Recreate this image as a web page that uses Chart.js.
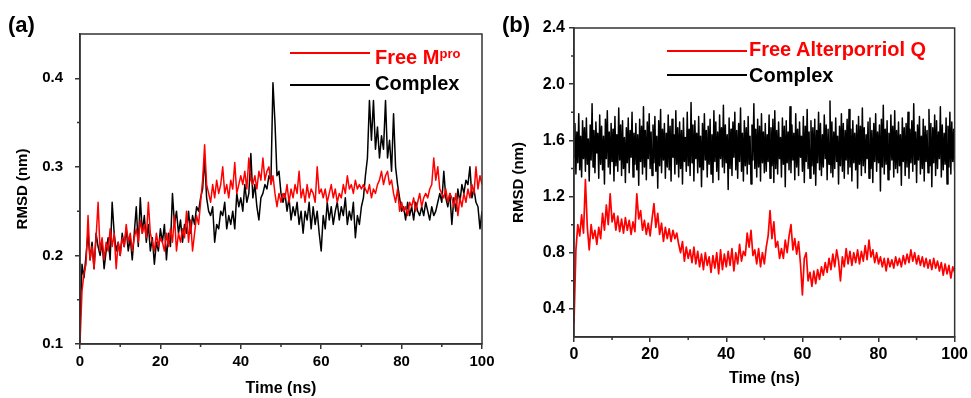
<!DOCTYPE html>
<html>
<head>
<meta charset="utf-8">
<script src="https://cdn.jsdelivr.net/npm/chart.js@4.4.0/dist/chart.umd.min.js"></script>
<style>
  body { margin: 0; background: #fff; width: 971px; height: 398px; position: relative; overflow: hidden;
         font-family: "Liberation Sans", Arial, sans-serif; font-weight: bold; }
  canvas { position: absolute; top: 0; }
  #chartA { left: 0; }
  #chartB { left: 490px; }
  .panel { position: absolute; font-size: 22px; line-height: 22px; color: #000; }
  .legline { position: absolute; width: 80px; height: 2px; }
  .legtext { position: absolute; font-size: 20px; line-height: 20px; white-space: nowrap; }
  .legtext sup { font-size: 13px; vertical-align: 6px; line-height: 0; }
</style>
</head>
<body>
<canvas id="chartA" width="500" height="398"></canvas>
<canvas id="chartB" width="481" height="398"></canvas>

<div class="panel" style="left:8px;top:14px">(a)</div>
<div class="panel" style="left:502px;top:14px">(b)</div>

<div class="legline" style="left:290px;top:52px;background:#ff0000"></div>
<div class="legtext" style="left:375px;top:47px;color:#ff0000">Free M<sup>pro</sup></div>
<div class="legline" style="left:290px;top:84px;background:#000"></div>
<div class="legtext" style="left:375px;top:73px;color:#000">Complex</div>

<div class="legline" style="left:667px;top:50px;background:#ff0000"></div>
<div class="legtext" style="left:749px;top:39px;color:#ff0000">Free Alterporriol Q</div>
<div class="legline" style="left:667px;top:74px;background:#000"></div>
<div class="legtext" style="left:749px;top:65px;color:#000">Complex</div>

<script>
// sampling grids of the trajectories (ns)
const timeNs = Array.from({ length: 201 }, (_, i) => i * 0.5);
const timeFine = Array.from({ length: 401 }, (_, i) => i * 0.25);

const xTicks = [0, 20, 40, 60, 80, 100];
const xTickLabels = ['0', '20', '40', '60', '80', '100'];
const xMinor = [10, 30, 50, 70, 90];

const yTicksA = [0.1, 0.2, 0.3, 0.4];
const yTickLabelsA = ['0.1', '0.2', '0.3', '0.4'];
const yMinorA = [0.15, 0.25, 0.35];

const yTicksB = [0.4, 0.8, 1.2, 1.6, 2.0, 2.4];
const yTickLabelsB = ['0.4', '0.8', '1.2', '1.6', '2.0', '2.4'];
const yMinorB = [0.6, 1.0, 1.4, 1.8, 2.2];

// panel (a) RMSD, nm  (every 0.5 ns)
const freeMpro = [
  0.10, 0.16, 0.18, 0.19, 0.245, 0.195, 0.21, 0.185, 0.22, 0.26, 0.205,
  0.22, 0.195, 0.215, 0.205, 0.23, 0.21, 0.225, 0.185, 0.215, 0.20,
  0.22, 0.21, 0.235, 0.215, 0.225, 0.205, 0.22, 0.23, 0.215, 0.24,
  0.225, 0.235, 0.22, 0.26, 0.225, 0.215, 0.205, 0.225, 0.21, 0.22,
  0.215, 0.205, 0.225, 0.21, 0.23, 0.215, 0.245, 0.205, 0.225, 0.215,
  0.23, 0.22, 0.25, 0.215, 0.24, 0.205, 0.225, 0.245, 0.235, 0.26,
  0.285, 0.325, 0.28, 0.27, 0.26, 0.28, 0.265, 0.285, 0.27, 0.28,
  0.30, 0.27, 0.28, 0.265, 0.285, 0.275, 0.305, 0.27, 0.28, 0.29,
  0.28, 0.295, 0.275, 0.31, 0.285, 0.28, 0.29, 0.275, 0.295, 0.285,
  0.31, 0.285, 0.295, 0.30, 0.28, 0.29, 0.27, 0.255, 0.27, 0.26,
  0.27, 0.265, 0.28, 0.26, 0.275, 0.265, 0.28, 0.27, 0.295, 0.265,
  0.275, 0.26, 0.28, 0.265, 0.275, 0.27, 0.26, 0.30, 0.27, 0.275,
  0.265, 0.275, 0.26, 0.27, 0.28, 0.265, 0.275, 0.26, 0.27, 0.265,
  0.28, 0.27, 0.29, 0.275, 0.28, 0.27, 0.285, 0.275, 0.28, 0.275,
  0.28, 0.275, 0.27, 0.28, 0.265, 0.275, 0.27, 0.28, 0.285, 0.295,
  0.28, 0.29, 0.295, 0.28, 0.285, 0.27, 0.26, 0.275, 0.25, 0.26,
  0.25, 0.255, 0.245, 0.26, 0.255, 0.265, 0.25, 0.26, 0.27, 0.255,
  0.265, 0.27, 0.265, 0.275, 0.28, 0.31, 0.285, 0.30, 0.275, 0.27,
  0.265, 0.275, 0.26, 0.27, 0.265, 0.255, 0.27, 0.245, 0.265, 0.255,
  0.27, 0.26, 0.275, 0.265, 0.28, 0.27, 0.30, 0.275, 0.29, 0.28
];
const complexA = [
  0.12, 0.19, 0.175, 0.20, 0.225, 0.195, 0.215, 0.185, 0.225, 0.21, 0.20,
  0.215, 0.185, 0.205, 0.22, 0.195, 0.26, 0.225, 0.205, 0.215, 0.20,
  0.225, 0.21, 0.23, 0.205, 0.22, 0.195, 0.225, 0.255, 0.21, 0.265,
  0.225, 0.245, 0.215, 0.235, 0.205, 0.22, 0.19, 0.215, 0.205, 0.23,
  0.215, 0.235, 0.195, 0.225, 0.21, 0.27, 0.235, 0.25, 0.225, 0.24,
  0.215, 0.235, 0.225, 0.25, 0.225, 0.245, 0.235, 0.255, 0.25, 0.265,
  0.275, 0.31, 0.265, 0.25, 0.245, 0.255, 0.215, 0.235, 0.23, 0.25,
  0.245, 0.26, 0.23, 0.245, 0.235, 0.25, 0.23, 0.27, 0.255, 0.265,
  0.25, 0.28, 0.26, 0.27, 0.315, 0.265, 0.28, 0.255, 0.24, 0.265,
  0.27, 0.28, 0.275, 0.29, 0.285, 0.395, 0.35, 0.29, 0.295, 0.27,
  0.26, 0.27, 0.25, 0.265, 0.24, 0.255, 0.245, 0.26, 0.235, 0.25,
  0.225, 0.25, 0.24, 0.26, 0.23, 0.255, 0.235, 0.25, 0.225, 0.205,
  0.245, 0.23, 0.26, 0.24, 0.255, 0.235, 0.25, 0.26, 0.24, 0.255,
  0.245, 0.265, 0.235, 0.25, 0.24, 0.26, 0.22, 0.245, 0.235, 0.255,
  0.265, 0.29, 0.31, 0.375, 0.33, 0.375, 0.32, 0.345, 0.31, 0.335,
  0.32, 0.375, 0.31, 0.33, 0.295, 0.36, 0.30, 0.28, 0.265, 0.25,
  0.255, 0.24, 0.26, 0.245, 0.255, 0.24, 0.26, 0.25, 0.245, 0.255,
  0.245, 0.26, 0.25, 0.24, 0.255, 0.245, 0.25, 0.26, 0.27, 0.26,
  0.295, 0.265, 0.255, 0.27, 0.235, 0.265, 0.25, 0.275, 0.26, 0.28,
  0.27, 0.285, 0.28, 0.30, 0.265, 0.275, 0.26, 0.255, 0.23, 0.25
];

// panel (b) RMSD, nm  (free ligand every 0.5 ns, complex every 0.25 ns)
const freeAlterQ = [
  0.30, 0.82, 1.00, 0.92, 1.07, 0.94, 1.32, 0.98, 0.82, 1.00, 0.90,
  0.96, 0.86, 0.98, 0.90, 1.08, 0.96, 1.14, 1.00, 1.22, 1.02,
  1.08, 0.96, 1.06, 0.95, 1.04, 0.94, 1.05, 0.96, 1.03, 0.93,
  1.02, 0.95, 1.22, 1.04, 1.10, 0.96, 1.03, 0.93, 1.01, 0.92,
  1.04, 1.15, 0.98, 1.08, 0.93, 1.01, 0.88, 0.98, 0.90, 0.97,
  0.88, 0.96, 0.90, 0.94, 0.86, 0.80, 0.88, 0.74, 0.84, 0.76,
  0.82, 0.73, 0.84, 0.72, 0.81, 0.70, 0.79, 0.68, 0.80, 0.71,
  0.77, 0.66, 0.78, 0.69, 0.80, 0.65, 0.82, 0.68, 0.79, 0.70,
  0.81, 0.71, 0.83, 0.67, 0.80, 0.72, 0.86, 0.74, 0.81, 0.78,
  0.94, 0.84, 0.96, 0.78, 0.82, 0.72, 0.83, 0.70, 0.80, 0.72,
  0.84, 0.92, 1.10, 0.90, 1.02, 0.84, 0.88, 0.76, 0.83, 0.76,
  0.89, 0.80, 0.92, 1.00, 0.82, 0.90, 0.79, 0.88, 0.72, 0.50,
  0.76, 0.80, 0.60, 0.66, 0.56, 0.67, 0.58, 0.68, 0.61, 0.70,
  0.64, 0.73, 0.66, 0.76, 0.68, 0.79, 0.70, 0.82, 0.74, 0.60,
  0.77, 0.70, 0.83, 0.72, 0.81, 0.71, 0.80, 0.73, 0.82, 0.72,
  0.81, 0.74, 0.85, 0.75, 0.89, 0.77, 0.82, 0.73, 0.80, 0.72,
  0.77, 0.70, 0.76, 0.67, 0.76, 0.70, 0.75, 0.69, 0.77, 0.71,
  0.76, 0.70, 0.78, 0.72, 0.79, 0.73, 0.82, 0.74, 0.80, 0.72,
  0.78, 0.71, 0.77, 0.70, 0.76, 0.69, 0.75, 0.68, 0.76, 0.69,
  0.74, 0.67, 0.73, 0.64, 0.72, 0.65, 0.71, 0.62, 0.70, 0.66
];
const complexB = [
  1.48, 1.72, 1.36, 1.66, 1.44, 1.79, 1.39, 1.63, 1.34, 1.74, 1.47,
  1.69, 1.38, 1.76, 1.43, 1.61, 1.31, 1.71, 1.46, 1.86, 1.41,
  1.67, 1.37, 1.73, 1.51, 1.65, 1.33, 1.78, 1.43, 1.70, 1.39,
  1.63, 1.29, 1.75, 1.47, 1.81, 1.41, 1.66, 1.36, 1.72, 1.45,
  1.68, 1.31, 1.77, 1.42, 1.64, 1.38, 1.83, 1.46, 1.71, 1.35,
  1.74, 1.40, 1.62, 1.30, 1.69, 1.44, 1.76, 1.37, 1.67, 1.48,
  1.80, 1.34, 1.65, 1.43, 1.72, 1.39, 1.64, 1.28, 1.75, 1.45,
  1.70, 1.36, 1.84, 1.41, 1.67, 1.32, 1.73, 1.47, 1.79, 1.40,
  1.66, 1.35, 1.71, 1.44, 1.77, 1.38, 1.63, 1.26, 1.74, 1.42,
  1.82, 1.37, 1.68, 1.46, 1.72, 1.33, 1.65, 1.41, 1.78, 1.39,
  1.70, 1.31, 1.75, 1.48, 1.64, 1.36, 1.81, 1.43, 1.69, 1.34,
  1.73, 1.40, 1.67, 1.29, 1.76, 1.45, 1.62, 1.38, 1.80, 1.42,
  1.68, 1.35, 1.87, 1.44, 1.71, 1.31, 1.74, 1.47, 1.65, 1.37,
  1.77, 1.41, 1.63, 1.27, 1.72, 1.39, 1.79, 1.46, 1.67, 1.34,
  1.70, 1.43, 1.75, 1.36, 1.64, 1.30, 1.81, 1.45, 1.73, 1.38,
  1.66, 1.32, 1.78, 1.47, 1.69, 1.41, 1.85, 1.37, 1.71, 1.44,
  1.64, 1.25, 1.76, 1.40, 1.68, 1.35, 1.73, 1.48, 1.80, 1.39,
  1.67, 1.33, 1.72, 1.45, 1.83, 1.38, 1.65, 1.31, 1.74, 1.42,
  1.69, 1.36, 1.77, 1.43, 1.63, 1.29, 1.71, 1.46, 1.86, 1.40,
  1.68, 1.34, 1.75, 1.41, 1.70, 1.31, 1.79, 1.44, 1.66, 1.37,
  1.72, 1.38, 1.64, 1.45, 1.78, 1.33, 1.69, 1.42, 1.75, 1.30,
  1.81, 1.40, 1.67, 1.36, 1.73, 1.47, 1.62, 1.34, 1.76, 1.43,
  1.70, 1.27, 1.74, 1.44, 1.66, 1.39, 1.84, 1.37, 1.71, 1.46,
  1.65, 1.32, 1.79, 1.41, 1.68, 1.35, 1.73, 1.48, 1.63, 1.38,
  1.77, 1.30, 1.70, 1.45, 1.82, 1.40, 1.66, 1.33, 1.74, 1.42,
  1.69, 1.36, 1.75, 1.28, 1.67, 1.44, 1.80, 1.39, 1.72, 1.35,
  1.64, 1.41, 1.78, 1.47, 1.71, 1.32, 1.68, 1.43, 1.88, 1.37,
  1.73, 1.34, 1.66, 1.40, 1.76, 1.45, 1.63, 1.29, 1.70, 1.42,
  1.79, 1.38, 1.72, 1.33, 1.67, 1.46, 1.75, 1.36, 1.82, 1.41,
  1.68, 1.31, 1.74, 1.44, 1.65, 1.39, 1.71, 1.26, 1.77, 1.43,
  1.70, 1.35, 1.83, 1.42, 1.69, 1.37, 1.64, 1.47, 1.73, 1.33,
  1.76, 1.40, 1.67, 1.30, 1.72, 1.45, 1.79, 1.38, 1.66, 1.44,
  1.71, 1.24, 1.75, 1.41, 1.85, 1.36, 1.68, 1.43, 1.74, 1.32,
  1.65, 1.39, 1.78, 1.46, 1.70, 1.34, 1.81, 1.40, 1.67, 1.37,
  1.73, 1.42, 1.64, 1.28, 1.76, 1.45, 1.69, 1.35, 1.72, 1.41,
  1.80, 1.33, 1.68, 1.44, 1.74, 1.38, 1.86, 1.43, 1.66, 1.30,
  1.71, 1.46, 1.77, 1.36, 1.63, 1.40, 1.75, 1.31, 1.70, 1.45,
  1.67, 1.37, 1.82, 1.42, 1.72, 1.27, 1.69, 1.44, 1.78, 1.35,
  1.74, 1.40, 1.66, 1.47, 1.84, 1.34, 1.71, 1.39, 1.65, 1.43,
  1.76, 1.29, 1.70, 1.41, 1.80, 1.36, 1.73, 1.45, 1.68, 1.38
];

Chart.defaults.font.family = '"Liberation Sans", Arial, sans-serif';
Chart.defaults.font.weight = 'bold';
Chart.defaults.color = '#000';

const AXIS = '#333';

// box around the plot plus short minor ticks
const framePlugin = {
  id: 'frame',
  afterDraw(chart, args, opts) {
    const { ctx, chartArea: a, scales } = chart;
    ctx.save();
    ctx.strokeStyle = AXIS;
    ctx.lineWidth = 1.5;
    ctx.strokeRect(a.left, a.top, a.right - a.left, a.bottom - a.top);
    ctx.beginPath();
    opts.minorX.forEach(v => {
      const px = scales.x.getPixelForValue(v);
      ctx.moveTo(px, a.bottom);
      ctx.lineTo(px, a.bottom + 3);
    });
    opts.minorY.forEach(v => {
      const py = scales.y.getPixelForValue(v);
      ctx.moveTo(a.left - 3, py);
      ctx.lineTo(a.left, py);
    });
    ctx.stroke();
    ctx.restore();
  }
};

function lineSet(label, times, values, color, width) {
  return {
    label,
    data: values.map((v, i) => ({ x: times[i], y: v })),
    borderColor: color,
    borderWidth: width,
    borderJoinStyle: 'round',
    pointRadius: 0,
    tension: 0
  };
}

function makeChart(id, cfg) {
  return new Chart(document.getElementById(id), {
    type: 'line',
    data: { datasets: cfg.datasets },
    options: {
      responsive: false,
      animation: false,
      devicePixelRatio: 1,
      layout: { padding: cfg.padding },
      plugins: {
        legend: { display: false },
        tooltip: { enabled: false },
        frame: { minorX: xMinor, minorY: cfg.yMinor }
      },
      scales: {
        x: {
          type: 'linear',
          min: 0,
          max: 100,
          afterBuildTicks: s => { s.ticks = xTicks.map(v => ({ value: v })); },
          afterFit: s => { s.height = cfg.xHeight; },
          ticks: {
            font: { size: cfg.tickSize, weight: 'bold' },
            padding: cfg.xPad,
            maxRotation: 0,
            callback: (v, i) => xTickLabels[i]
          },
          grid: { drawOnChartArea: false, drawTicks: true, tickLength: 5, color: AXIS, lineWidth: 1.5 },
          border: { color: AXIS, width: 1.5 },
          title: {
            display: true,
            text: 'Time (ns)',
            font: { size: 16, weight: 'bold' },
            padding: { top: 0, bottom: cfg.xTitlePad }
          }
        },
        y: {
          min: cfg.yMin,
          max: cfg.yMax,
          afterBuildTicks: s => { s.ticks = cfg.yTicks.map(v => ({ value: v })); },
          afterFit: s => { s.width = cfg.yWidth; },
          ticks: {
            font: { size: cfg.tickSize, weight: 'bold' },
            padding: cfg.yPad,
            callback: (v, i) => cfg.yLabels[i]
          },
          grid: { drawOnChartArea: false, drawTicks: true, tickLength: 5, color: AXIS, lineWidth: 1.5 },
          border: { color: AXIS, width: 1.5 },
          title: {
            display: true,
            text: 'RMSD (nm)',
            font: { size: 15, weight: 'bold' },
            padding: { top: cfg.yTitlePad, bottom: 0 }
          }
        }
      }
    },
    plugins: [framePlugin]
  });
}

makeChart('chartA', {
  datasets: [
    lineSet('Free Mpro', timeNs, freeMpro, '#ff0000', 1.5),
    lineSet('Complex', timeNs, complexA, '#000000', 1.5)
  ],
  yMin: 0.1, yMax: 0.45,
  yTicks: yTicksA, yLabels: yTickLabelsA, yMinor: yMinorA,
  padding: { left: 0, right: 18, top: 34, bottom: 0 },
  yWidth: 80, xHeight: 54,
  tickSize: 15, xPad: 4, yPad: 12,
  xTitlePad: 0, yTitlePad: 14
});

makeChart('chartB', {
  datasets: [
    lineSet('Free Alterporriol Q', timeNs, freeAlterQ, '#ff0000', 1.7),
    lineSet('Complex', timeFine, complexB, '#000000', 1.5)
  ],
  yMin: 0.2, yMax: 2.4,
  yTicks: yTicksB, yLabels: yTickLabelsB, yMinor: yMinorB,
  padding: { left: 0, right: 15, top: 28, bottom: 0 },
  yWidth: 84, xHeight: 61,
  tickSize: 16, xPad: 3, yPad: 4,
  xTitlePad: 10, yTitlePad: 20
});
</script>
</body>
</html>
